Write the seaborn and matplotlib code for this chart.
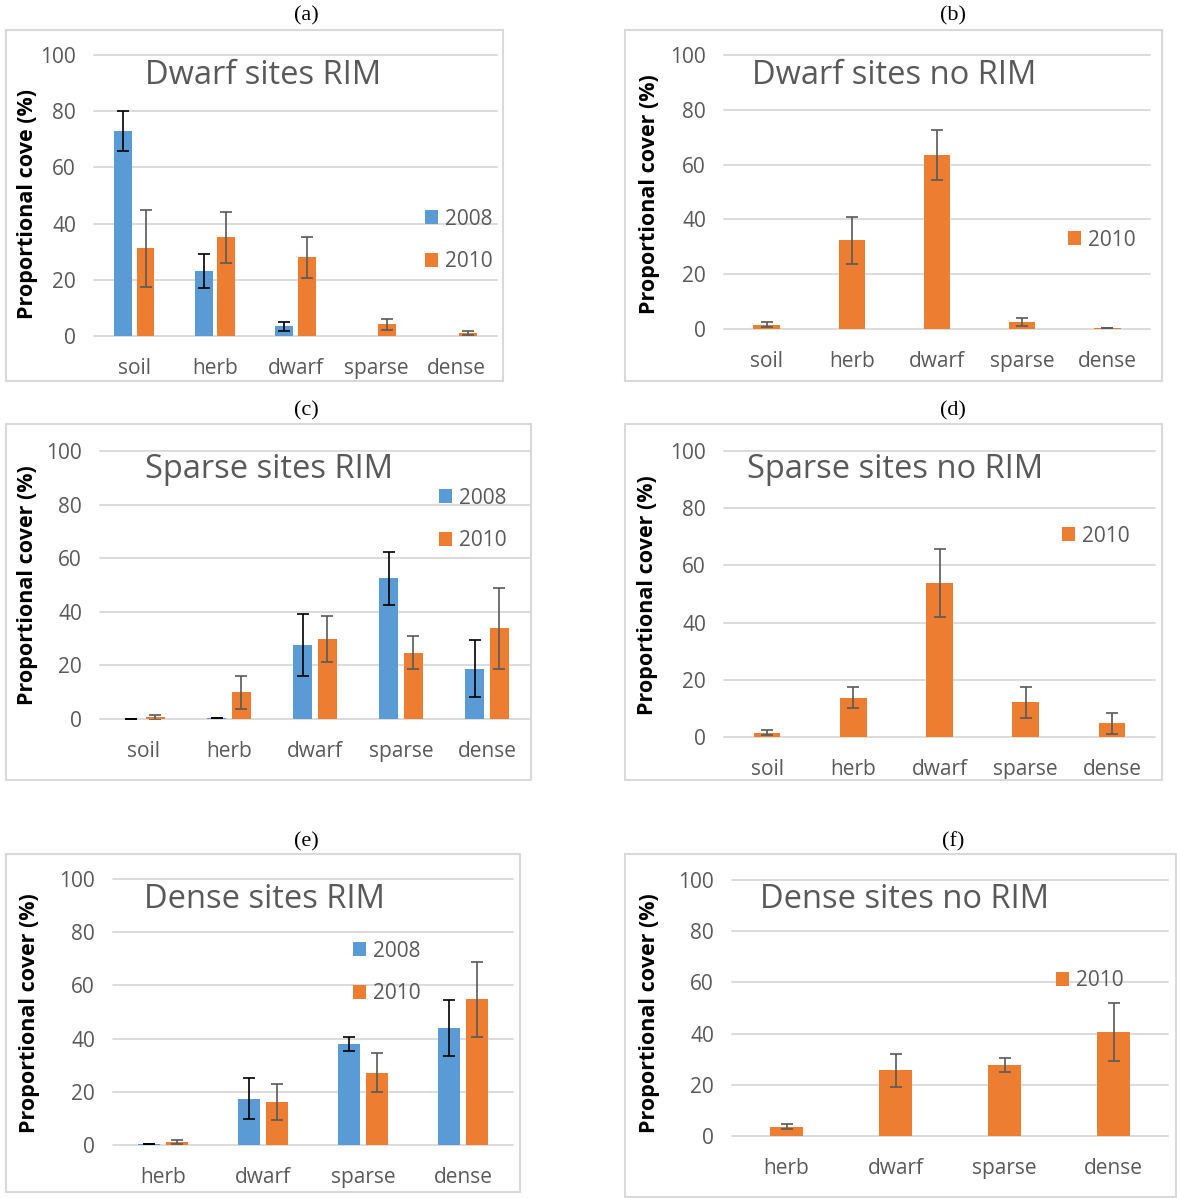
import numpy as np
import pandas as pd
import matplotlib
matplotlib.use("Agg")
import matplotlib.pyplot as plt
from matplotlib.patches import Rectangle
import seaborn as sns

# ---------------- data ----------------
cats5 = ["soil", "herb", "dwarf", "sparse", "dense"]
cats4 = ["herb", "dwarf", "sparse", "dense"]

a_2008 = [73.0, 23.1, 3.4, 0.0, 0.0]
a_2008_err = [7.2, 6.1, 1.5, np.nan, np.nan]
a_2010 = [31.2, 35.1, 28.0, 4.1, 1.1]
a_2010_err = [13.7, 9.0, 7.2, 1.8, 0.7]

b_2010 = [1.5, 32.3, 63.5, 2.5, 0.3]
b_2010_err = [0.9, 8.4, 9.1, 1.4, 0.1]

c_2008 = [0.1, 0.2, 27.6, 52.5, 18.7]
c_2008_err = [0.0, 0.0, 11.7, 9.9, 10.6]
c_2010 = [0.6, 10.0, 29.9, 24.8, 33.8]
c_2010_err = [0.8, 6.1, 8.6, 6.0, 15.0]

d_2010 = [1.5, 13.8, 53.8, 12.1, 4.8]
d_2010_err = [0.8, 3.8, 11.8, 5.4, 3.7]

e_2008 = [0.3, 17.4, 37.9, 44.0]
e_2008_err = [0.0, 7.7, 2.6, 10.5]
e_2010 = [1.1, 16.2, 27.2, 54.8]
e_2010_err = [0.9, 6.9, 7.4, 14.1]

f_2010 = [3.7, 25.6, 27.7, 40.5]
f_2010_err = [1.1, 6.6, 2.8, 11.3]

yticks = [0, 20, 40, 60, 80, 100]

# ---------------- style ----------------
BLUE = "#5B9BD5"
ORANGE = "#ED7D31"
GRID = "#D9D9D9"
TXT = "#595959"
ERR = {"2008": "#000000", "2010": "#595959"}
COL = {"2008": BLUE, "2010": ORANGE}

sns.set_theme(style="white")
plt.rcParams["font.family"] = ["Open Sans", "DejaVu Sans"]

W, H = 1177, 1198
fig = plt.figure(figsize=(W / 100, H / 100), dpi=100)
fig.patch.set_facecolor("white")


def fx(x):
    return x / W


def fy(y):
    return 1 - y / H


panels = [
    dict(label="(a)", title="Dwarf sites RIM", ylabel="Proportional cove (%)", cats=cats5,
         series=[("2008", a_2008, a_2008_err), ("2010", a_2010, a_2010_err)],
         plot=(94, 55, 497, 336), box=(6, 30, 503, 381), lab=(306, 16),
         title_xy=(145, 75), ylab_xy=(28, 204), leg_xy=(425, 240.5)),
    dict(label="(b)", title="Dwarf sites no RIM", ylabel="Proportional cover (%)", cats=cats5,
         series=[("2010", b_2010, b_2010_err)],
         plot=(724, 55, 1150, 329), box=(625, 30, 1162, 381), lab=(953, 16),
         title_xy=(752, 75), ylab_xy=(650, 194), leg_xy=(1068, 240)),
    dict(label="(c)", title="Sparse sites RIM", ylabel="Proportional cover (%)", cats=cats5,
         series=[("2008", c_2008, c_2008_err), ("2010", c_2010, c_2010_err)],
         plot=(100, 451, 530, 719), box=(6, 424, 531, 780), lab=(306, 411),
         title_xy=(145, 470), ylab_xy=(28, 585), leg_xy=(439, 519.5)),
    dict(label="(d)", title="Sparse sites no RIM", ylabel="Proportional cover (%)", cats=cats5,
         series=[("2010", d_2010, d_2010_err)],
         plot=(724, 451, 1155, 737), box=(625, 424, 1162, 780), lab=(953, 411),
         title_xy=(747, 470), ylab_xy=(648, 595), leg_xy=(1062, 536)),
    dict(label="(e)", title="Dense sites RIM", ylabel="Proportional cover (%)", cats=cats4,
         series=[("2008", e_2008, e_2008_err), ("2010", e_2010, e_2010_err)],
         plot=(113, 879, 513, 1145), box=(6, 854, 520, 1192), lab=(306, 842),
         title_xy=(144, 900), ylab_xy=(30, 1013), leg_xy=(353, 972.5)),
    dict(label="(f)", title="Dense sites no RIM", ylabel="Proportional cover (%)", cats=cats4,
         series=[("2010", f_2010, f_2010_err)],
         plot=(732, 880, 1168, 1136), box=(625, 854, 1176, 1197), lab=(953, 842),
         title_xy=(760, 900), ylab_xy=(650, 1013), leg_xy=(1056, 981)),
]

for p in panels:
    # outer chart box
    bx0, by0, bx1, by1 = p["box"]
    fig.add_artist(Rectangle((fx(bx0), fy(by1)), (bx1 - bx0) / W, (by1 - by0) / H,
                             transform=fig.transFigure, fill=False,
                             edgecolor=GRID, linewidth=1.5))
    fig.text(fx(p["lab"][0]), fy(p["lab"][1]), p["label"], ha="center", va="center",
             fontsize=16, family=["Liberation Serif", "DejaVu Serif"], color="black")

    x0, y0, x1, y1 = p["plot"]
    ax = fig.add_axes([fx(x0), fy(y1), (x1 - x0) / W, (y1 - y0) / H])
    ax.set_facecolor("none")

    cats = p["cats"]
    series = p["series"]
    if len(series) == 2:
        years = [s[0] for s in series]
        df = pd.DataFrame({
            "cat": cats * 2,
            "val": list(series[0][1]) + list(series[1][1]),
            "year": [years[0]] * len(cats) + [years[1]] * len(cats),
        })
        sns.barplot(data=df, x="cat", y="val", hue="year", order=cats, hue_order=years,
                    palette=[COL[y] for y in years], width=0.56, gap=0.21, dodge=True,
                    saturation=1, errorbar=None, legend=False, linewidth=0, ax=ax)
    else:
        yr, vals, _ = series[0]
        df = pd.DataFrame({"cat": cats, "val": vals})
        sns.barplot(data=df, x="cat", y="val", order=cats, color=COL[yr], width=0.31,
                    saturation=1, errorbar=None, linewidth=0, ax=ax)

    # error bars at bar centres
    for cont, (yr, vals, errs) in zip(ax.containers, series):
        for patch, v, e in zip(cont.patches, vals, errs):
            if np.isnan(e):
                continue
            xc = patch.get_x() + patch.get_width() / 2
            ax.errorbar(xc, v, yerr=e, fmt="none", ecolor=ERR[yr], elinewidth=1.2,
                        capsize=4.5, capthick=1.2, zorder=5)

    ax.set_ylim(0, 100)
    ax.set_yticks(yticks)
    ax.set_xlim(-0.5, len(cats) - 0.5)
    ax.set_xlabel("")
    ax.set_ylabel("")
    for s in ax.spines.values():
        s.set_visible(False)
    ax.grid(axis="y", color=GRID, linewidth=1.3)
    ax.grid(axis="x", visible=False)
    ax.set_axisbelow(True)
    for gl in ax.get_ygridlines():
        gl.set_clip_on(False)
    ax.tick_params(axis="y", length=0, pad=13, labelsize=15, labelcolor=TXT)
    ax.tick_params(axis="x", length=0, pad=16, labelsize=15, labelcolor=TXT)

    # legend
    handles = list(ax.containers)
    labels = [s[0] for s in series]
    lx, ly = p["leg_xy"]
    ax.legend(handles, labels, loc="center left",
              bbox_to_anchor=(fx(lx), fy(ly)), bbox_transform=fig.transFigure,
              frameon=False, fontsize=15, labelcolor=TXT, handlelength=0.62,
              handleheight=0.62, handletextpad=0.35, labelspacing=1.05,
              borderpad=0, borderaxespad=0)

    # title inside plot area
    fig.text(fx(p["title_xy"][0]), fy(p["title_xy"][1]), p["title"], ha="left",
             va="center", fontsize=23.5, color=TXT)
    # y label
    fig.text(fx(p["ylab_xy"][0]), fy(p["ylab_xy"][1]), p["ylabel"], rotation=90,
             ha="center", va="center", fontsize=15.5, fontweight="bold", color="black")

fig.savefig("out.png", dpi=100, facecolor="white")
